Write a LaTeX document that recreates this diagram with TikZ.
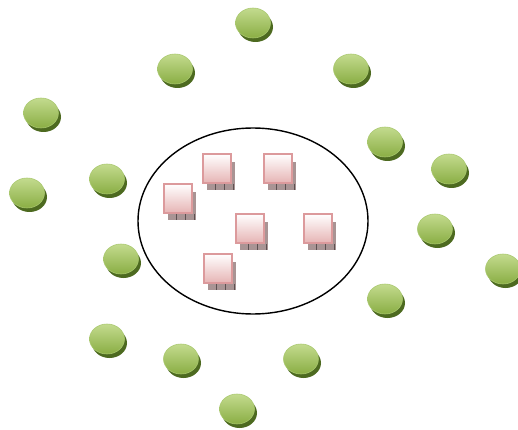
\documentclass[tikz,border=0pt]{standalone}
\usepackage{xcolor}
\definecolor{ballhi}{HTML}{C3DB8E}
\definecolor{balllo}{HTML}{8AAE44}
\definecolor{ballrim}{HTML}{A9C86E}
\definecolor{ballshade}{HTML}{4D6A20}
\definecolor{boxedge}{HTML}{DC9A9C}
\definecolor{boxlow}{HTML}{E6B4B4}
\definecolor{boxshade}{HTML}{A99494}

\begin{document}
\begin{tikzpicture}[x=0.5mm, y=-0.5mm]

  % Canvas
  \useasboundingbox (0, 0) rectangle (518, 430);
  \fill[white] (0, 0) rectangle (518, 430);

  % ==================== GREEN BALLS ====================
  \foreach \x/\y in {253/23, 175/69, 351/69, 41/113, 385/142, 27/193,
                     107/179, 449/169, 435/229, 121/259, 503/269, 385/299,
                     107/339, 181/359, 301/359, 237/409} {
    % Shadow
    \fill[ballshade] (\x+2.5, \y+4) ellipse (17.5 and 15);
    % Ball
    \shadedraw[top color=ballhi, bottom color=balllo, draw=ballrim, line width=0.8pt]
      (\x, \y) ellipse (17.5 and 15);
  }

  % ==================== CENTRAL ELLIPSE ====================
  \draw[black, line width=2pt] (253, 221) ellipse (115 and 93);

  % ==================== PINK BOXES ====================
  \foreach \x/\y in {202/153, 263/153, 163/183, 235/213, 303/213, 203/253} {
    % Shadow
    \fill[boxshade] (\x+5, \y+9) rectangle (\x+33, \y+37);
    \foreach \k in {0, 1, 2} {
      \draw[boxshade!55!black, line width=0.5pt] (\x+13+\k*9, \y+31) -- (\x+13+\k*9, \y+37);
    }
    % Box
    \shadedraw[top color=white, bottom color=boxlow, draw=boxedge, line width=3pt]
      (\x+1, \y+1) rectangle (\x+29, \y+30);
  }

\end{tikzpicture}
\end{document}
